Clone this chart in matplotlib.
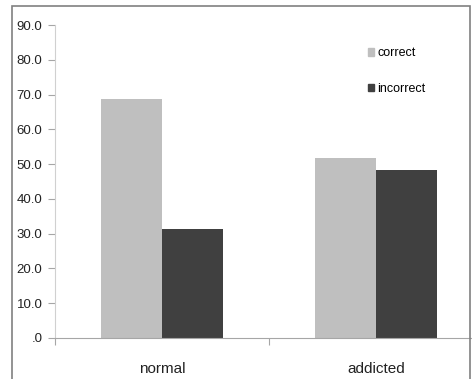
import matplotlib.pyplot as plt
from matplotlib.patches import Rectangle, Patch

plt.rcParams["font.family"] = ["Liberation Sans", "DejaVu Sans"]

categories = ["normal", "addicted"]
correct = [68.8, 51.8]
incorrect = [31.2, 48.2]
yticks = [0, 10, 20, 30, 40, 50, 60, 70, 80, 90]
ytick_labels = [".0", "10.0", "20.0", "30.0", "40.0", "50.0", "60.0", "70.0", "80.0", "90.0"]

light = "#BFBFBF"
dark = "#404040"
axis_grey = "#A6A6A6"

fig = plt.figure(figsize=(4.72, 3.79), dpi=100)

# outer chart frame (cropped at right/bottom like the screenshot)
fig.patches.append(Rectangle((12 / 472, -0.05), 458 / 472, 1.05 - 6 / 379,
                             transform=fig.transFigure, fill=False,
                             edgecolor="#808080", linewidth=1.2))

ax = fig.add_axes([55 / 472, 41 / 379, 428 / 472, 313 / 379])

w = 0.285
x = range(len(categories))
ax.bar([i - w / 2 for i in x], correct, width=w, color=light, label="correct")
ax.bar([i + w / 2 for i in x], incorrect, width=w, color=dark, label="incorrect")

ax.set_xlim(-0.5, 1.5)
ax.set_ylim(0, 90)
ax.set_yticks(yticks)
ax.set_yticklabels(ytick_labels, fontsize=9.5, color="#222222")
ax.set_xticks([-0.5, 0.5, 1.5])
ax.set_xticklabels([])
ax.set_xticks(list(x), minor=True)
ax.set_xticklabels(categories, minor=True, fontsize=11, color="#222222")
ax.tick_params(axis="x", which="minor", length=0, pad=17)
ax.tick_params(axis="x", which="major", length=5, color=axis_grey, direction="out")
ax.tick_params(axis="y", length=5, color=axis_grey, pad=4)

for s in ["top", "right"]:
    ax.spines[s].set_visible(False)
ax.spines["left"].set_color("#D0D0D0")
ax.spines["bottom"].set_color(axis_grey)
ax.patch.set_alpha(0)

handles = [Patch(color=light), Patch(color=dark)]
fig.legend(handles, ["correct", "incorrect"], loc="upper left",
           bbox_to_anchor=(357 / 472, 1 - 36 / 379), frameon=False,
           handlelength=0.45, handleheight=0.55, handletextpad=0.25,
           labelspacing=1.9, fontsize=9)

fig.savefig("out.png", dpi=100)
